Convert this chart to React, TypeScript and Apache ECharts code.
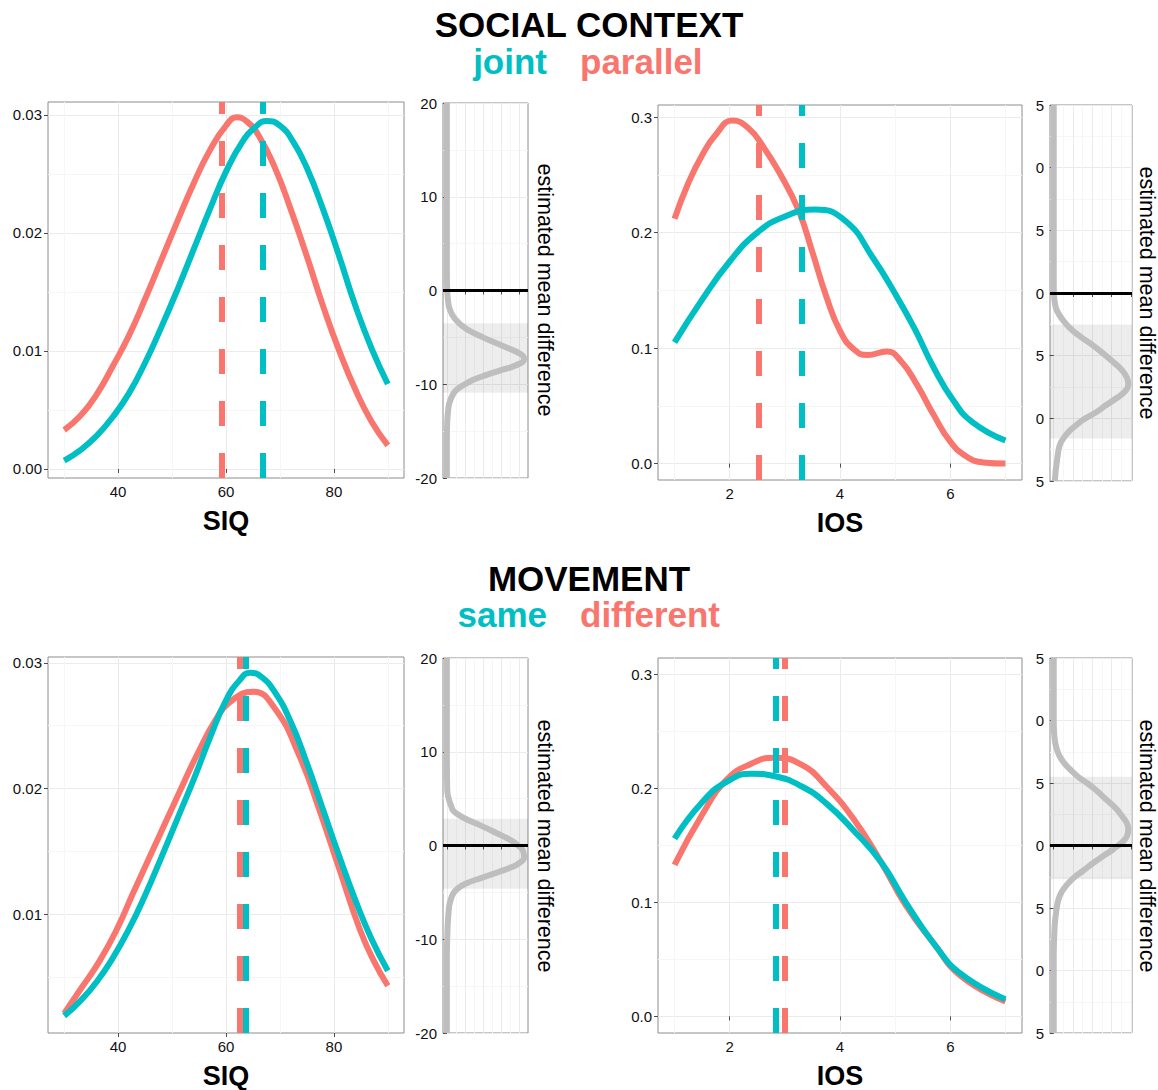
import React, { useEffect, useRef } from "react";
import * as echarts from "echarts";

const TEAL = "#00BFC4";
const RED = "#F8766D";
const FONT = "'Liberation Sans', Helvetica, Arial, sans-serif";

// ---------- SOCIAL CONTEXT : SIQ densities ----------
const socialSiqParallelX = [30, 33, 36, 39, 42, 45, 48, 51, 54, 57, 60, 62, 64, 66, 69, 72, 75, 78, 81, 84, 87, 90];
const socialSiqParallelY = [0.0033, 0.0045, 0.0063, 0.0087, 0.0113, 0.0144, 0.0177, 0.021, 0.0242, 0.027, 0.0291, 0.0298, 0.0294, 0.0283, 0.0256, 0.022, 0.018, 0.0138, 0.01, 0.0067, 0.004, 0.002];
const socialSiqJointX = [30, 33, 36, 39, 42, 45, 48, 51, 54, 57, 60, 63, 65.5, 67.5, 70, 72.5, 75, 78, 81, 84, 87, 90];
const socialSiqJointY = [0.0007, 0.0016, 0.0028, 0.0044, 0.0064, 0.009, 0.012, 0.0152, 0.0186, 0.022, 0.0252, 0.0277, 0.029, 0.0295, 0.0291, 0.0277, 0.0255, 0.022, 0.018, 0.0138, 0.0102, 0.0072];
const socialSiqMeans = { joint: 66.85, parallel: 59.3 };

// ---------- SOCIAL CONTEXT : IOS densities ----------
const socialIosParallelX = [1.0, 1.25, 1.5, 1.75, 2.05, 2.35, 2.6, 2.9, 3.25, 3.5, 3.75, 4.0, 4.25, 4.5, 4.85, 5.1, 5.4, 5.7, 6.0, 6.3, 6.6, 7.0];
const socialIosParallelY = [0.212, 0.243, 0.267, 0.285, 0.297, 0.29, 0.275, 0.252, 0.219, 0.183, 0.145, 0.115, 0.099, 0.094, 0.097, 0.089, 0.068, 0.042, 0.019, 0.006, 0.001, 0.0];
const socialIosJointX = [1.0, 1.5, 2.0, 2.5, 3.0, 3.55, 4.1, 4.6, 5.0, 5.35, 5.7, 6.05, 6.4, 7.0];
const socialIosJointY = [0.105, 0.142, 0.175, 0.2, 0.214, 0.22, 0.21, 0.178, 0.147, 0.117, 0.083, 0.055, 0.036, 0.02];
const socialIosMeans = { joint: 3.3, parallel: 2.53 };

// ---------- MOVEMENT : SIQ densities ----------
const moveSiqDifferentX = [30, 33, 36.6, 40, 42.8, 46, 49, 52, 55.1, 58, 60.5, 65, 69, 73.6, 77.3, 81, 84.8, 87.5, 90];
const moveSiqDifferentY = [0.0021, 0.004, 0.0063, 0.009, 0.0117, 0.0147, 0.0175, 0.0203, 0.0231, 0.0254, 0.0268, 0.0277, 0.0264, 0.0226, 0.0183, 0.0136, 0.0088, 0.0062, 0.0043];
const moveSiqSameX = [30, 33, 36, 39, 42, 45, 48, 51, 54, 57, 60, 62.5, 64.5, 66.5, 69, 72, 75, 78, 81, 84, 87, 90];
const moveSiqSameY = [0.0019, 0.0031, 0.0046, 0.0065, 0.0088, 0.0115, 0.0145, 0.0176, 0.0207, 0.024, 0.027, 0.0286, 0.0292, 0.0289, 0.0277, 0.0253, 0.022, 0.0183, 0.0146, 0.0111, 0.008, 0.0055];
const moveSiqMeans = { same: 63.6, different: 62.5 };

// ---------- MOVEMENT : IOS densities ----------
const moveIosX = [1.0, 1.5, 1.95, 2.4, 2.8, 3.3, 3.75, 4.25, 4.75, 5.2, 5.7, 6.2, 7.0];
const moveIosDifferentY = [0.133, 0.177, 0.208, 0.222, 0.227, 0.221, 0.202, 0.173, 0.135, 0.097, 0.064, 0.035, 0.013];
const moveIosSameY = [0.156, 0.188, 0.206, 0.213, 0.211, 0.202, 0.187, 0.163, 0.135, 0.0995, 0.064, 0.037, 0.015];
const moveIosMeans = { same: 2.84, different: 2.99 };

// ---------- posterior of the mean difference (side panels) ----------
const socialSiqDiff = [20, 10, 2, 0, -1, -2, -3, -4, -5, -6, -6.8, -7.3, -8, -8.5, -9, -9.5, -10, -10.5, -11, -12, -13, -14, -16, -20];
const socialSiqDiffDens = [0, 0, 0, 0.001, 0.003, 0.008, 0.022, 0.05, 0.1, 0.16, 0.205, 0.214, 0.19, 0.15, 0.11, 0.075, 0.05, 0.03, 0.018, 0.007, 0.003, 0.001, 0, 0];
const socialSiqHdi = [-10.9, -3.5];

const socialIosDiff = [1.5, 0.5, 0.1, 0, -0.1, -0.15, -0.2, -0.28, -0.35, -0.41, -0.48, -0.55, -0.62, -0.68, -0.73, -0.78, -0.84, -0.9, -0.95, -1.0, -1.03, -1.07, -1.11, -1.16, -1.21, -1.28, -1.35, -1.42, -1.5];
const socialIosDiffDens = [0, 0, 0, 0.005, 0.04, 0.1, 0.2, 0.42, 0.7, 0.98, 1.27, 1.54, 1.78, 1.9, 1.93, 1.86, 1.62, 1.33, 1.11, 0.82, 0.68, 0.52, 0.38, 0.25, 0.16, 0.11, 0.08, 0.05, 0.03];
const socialIosHdi = [-1.16, -0.255];

const moveSiqDiff = [20, 10, 6, 5, 4.2, 3.7, 3.2, 2.7, 2.2, 1.6, 1, 0.5, 0, -0.5, -1.25, -1.8, -2.3, -2.8, -3.4, -4.1, -4.6, -5.1, -6, -6.6, -8, -10, -12, -20];
const moveSiqDiffDens = [0, 0, 0.001, 0.005, 0.012, 0.018, 0.035, 0.06, 0.09, 0.123, 0.155, 0.18, 0.197, 0.21, 0.214, 0.203, 0.18, 0.145, 0.1, 0.05, 0.03, 0.018, 0.009, 0.006, 0.003, 0.001, 0, 0];
const moveSiqHdi = [-4.6, 2.85];

const moveIosDiff = [1.5, 1.0, 0.9, 0.82, 0.76, 0.71, 0.66, 0.61, 0.55, 0.5, 0.45, 0.39, 0.34, 0.29, 0.23, 0.18, 0.13, 0.08, 0.04, -0.03, -0.08, -0.14, -0.2, -0.25, -0.3, -0.35, -0.4, -0.46, -0.54, -0.62, -0.75, -0.9, -1.5];
const moveIosDiffDens = [0, 0, 0.01, 0.04, 0.09, 0.16, 0.27, 0.42, 0.63, 0.86, 1.07, 1.28, 1.46, 1.63, 1.78, 1.89, 1.93, 1.9, 1.82, 1.54, 1.3, 1.02, 0.77, 0.55, 0.38, 0.25, 0.16, 0.1, 0.06, 0.03, 0.01, 0, 0];
const moveIosHdi = [-0.27, 0.55];

// ---------- ticks ----------
const siqTicks = [40, 60, 80];
const siqMinor = [30, 50, 70, 90];
const iosTicks = [2, 4, 6];
const iosMinor = [1, 3, 5, 7];
const siqDensTicks = [0, 0.01, 0.02, 0.03];
const siqDensMinor = [0.005, 0.015, 0.025];
const iosDensTicks = [0, 0.1, 0.2, 0.3];
const iosDensMinor = [0.05, 0.15, 0.25];
const siqDiffTicks = [-20, -10, 0, 10, 20];
const siqDiffMinor = [-15, -5, 5, 15];
const iosDiffTicks = [-1.5, -1, -0.5, 0, 0.5, 1, 1.5];
const iosDiffTickLabels = ["5", "0", "5", "0", "5", "0", "5"];
const iosDiffMinor = [-1.25, -0.75, -0.25, 0.25, 0.75, 1.25];
const siqDiffDensTicks = [0, 0.05, 0.1, 0.15, 0.2];
const siqDiffDensMinor = [0.025, 0.075, 0.125, 0.175];
const iosDiffDensTicks = [0, 0.5, 1, 1.5, 2];
const iosDiffDensMinor = [0.25, 0.75, 1.25, 1.75];

// ---------- layout ----------
const grids = [
  { left: 48, top: 102, width: 356, height: 376 },
  { left: 443, top: 103, width: 85, height: 375 },
  { left: 658, top: 105, width: 364, height: 375 },
  { left: 1050, top: 105, width: 82, height: 376 },
  { left: 48, top: 657, width: 356, height: 376 },
  { left: 443, top: 658, width: 85, height: 375 },
  { left: 658, top: 658, width: 364, height: 375 },
  { left: 1050, top: 658, width: 82, height: 375 },
];

const zip = (xs: number[], ys: number[]) => xs.map((x, i) => [x, ys[i]]);

type MainPanel = {
  grid: number;
  xRange: [number, number];
  xTicks: number[];
  xMinor: number[];
  yRange: [number, number];
  yTicks: number[];
  yMinor: number[];
  dec: number;
  name: string;
  red: number[][];
  teal: number[][];
  redMean: number;
  tealMean: number;
};

type SidePanel = {
  grid: number;
  yRange: [number, number];
  yTicks: number[];
  yMinor: number[];
  yLabel: (v: number) => string;
  xTicks: number[];
  xMinor: number[];
  curve: number[][];
  hdi: number[];
};

const mainPanels: MainPanel[] = [
  {
    grid: 0, xRange: [27, 93], xTicks: siqTicks, xMinor: siqMinor,
    yRange: [-0.00077, 0.0311], yTicks: siqDensTicks, yMinor: siqDensMinor, dec: 2, name: "SIQ",
    red: zip(socialSiqParallelX, socialSiqParallelY), teal: zip(socialSiqJointX, socialSiqJointY),
    redMean: socialSiqMeans.parallel, tealMean: socialSiqMeans.joint,
  },
  {
    grid: 2, xRange: [0.7, 7.3], xTicks: iosTicks, xMinor: iosMinor,
    yRange: [-0.0142, 0.3105], yTicks: iosDensTicks, yMinor: iosDensMinor, dec: 1, name: "IOS",
    red: zip(socialIosParallelX, socialIosParallelY), teal: zip(socialIosJointX, socialIosJointY),
    redMean: socialIosMeans.parallel, tealMean: socialIosMeans.joint,
  },
  {
    grid: 4, xRange: [27, 93], xTicks: siqTicks, xMinor: siqMinor,
    yRange: [0.00054, 0.03046], yTicks: siqDensTicks, yMinor: siqDensMinor, dec: 2, name: "SIQ",
    red: zip(moveSiqDifferentX, moveSiqDifferentY), teal: zip(moveSiqSameX, moveSiqSameY),
    redMean: moveSiqMeans.different, tealMean: moveSiqMeans.same,
  },
  {
    grid: 6, xRange: [0.7, 7.3], xTicks: iosTicks, xMinor: iosMinor,
    yRange: [-0.0146, 0.3146], yTicks: iosDensTicks, yMinor: iosDensMinor, dec: 1, name: "IOS",
    red: zip(moveIosX, moveIosDifferentY), teal: zip(moveIosX, moveIosSameY),
    redMean: moveIosMeans.different, tealMean: moveIosMeans.same,
  },
];

const siqLab = (v: number) => String(v);
const iosLab = (v: number) => {
  const i = iosDiffTicks.findIndex((t) => Math.abs(t - v) < 1e-6);
  return i >= 0 ? iosDiffTickLabels[i] : "";
};

const sidePanels: SidePanel[] = [
  { grid: 1, yRange: [-20, 20], yTicks: siqDiffTicks, yMinor: siqDiffMinor, yLabel: siqLab, xTicks: siqDiffDensTicks, xMinor: siqDiffDensMinor, curve: zip(socialSiqDiffDens, socialSiqDiff), hdi: socialSiqHdi },
  { grid: 3, yRange: [-1.5, 1.5], yTicks: iosDiffTicks, yMinor: iosDiffMinor, yLabel: iosLab, xTicks: iosDiffDensTicks, xMinor: iosDiffDensMinor, curve: zip(socialIosDiffDens, socialIosDiff), hdi: socialIosHdi },
  { grid: 5, yRange: [-20, 20], yTicks: siqDiffTicks, yMinor: siqDiffMinor, yLabel: siqLab, xTicks: siqDiffDensTicks, xMinor: siqDiffDensMinor, curve: zip(moveSiqDiffDens, moveSiqDiff), hdi: moveSiqHdi },
  { grid: 7, yRange: [-1.5, 1.5], yTicks: iosDiffTicks, yMinor: iosDiffMinor, yLabel: iosLab, xTicks: iosDiffDensTicks, xMinor: iosDiffDensMinor, curve: zip(moveIosDiffDens, moveIosDiff), hdi: moveIosHdi },
];

const MAJOR = "#EBEBEB";
const MINOR = "#F6F6F6";
const labelStyle = { fontSize: 15, color: "#111", fontFamily: FONT };

function majorAxis(gi: number, min: number, max: number, ticks: number[], fmt: ((v: number) => string) | null, pos: string, extra: any = {}) {
  return {
    type: "value", gridIndex: gi, min, max, position: pos,
    axisLine: { show: false },
    axisTick: { show: true, length: 4, customValues: ticks, lineStyle: { color: "#4d4d4d", width: 1 } },
    axisLabel: fmt
      ? { show: true, customValues: ticks, margin: 6, formatter: fmt, ...labelStyle }
      : { show: false },
    splitLine: { show: true, lineStyle: { color: MAJOR, width: 1 } },
    ...extra,
  };
}
function minorAxis(gi: number, min: number, max: number, ticks: number[], pos: string) {
  return {
    type: "value", gridIndex: gi, min, max, position: pos,
    axisLine: { show: false },
    axisTick: { show: false, customValues: ticks },
    axisLabel: { show: false },
    splitLine: { show: true, lineStyle: { color: MINOR, width: 1 } },
  };
}

function buildOption() {
  const xAxis: any[] = [];
  const yAxis: any[] = [];
  const series: any[] = [];

  const gridOpts = grids.map((g) => ({
    ...g, show: true, borderColor: "#8c8c8c", borderWidth: 1, backgroundColor: "#fff",
    containLabel: false, outerBoundsMode: "none",
  }));

  mainPanels.forEach((p) => {
    const xi = xAxis.length;
    xAxis.push(
      majorAxis(p.grid, p.xRange[0], p.xRange[1], p.xTicks, (v) => String(v), "bottom", {
        name: p.name, nameLocation: "middle", nameGap: 29,
        nameTextStyle: { fontSize: 27, fontWeight: "bold", color: "#000", fontFamily: FONT },
      }),
      minorAxis(p.grid, p.xRange[0], p.xRange[1], p.xMinor, "bottom")
    );
    const yi = yAxis.length;
    yAxis.push(
      majorAxis(p.grid, p.yRange[0], p.yRange[1], p.yTicks, (v) => v.toFixed(p.dec), "left"),
      minorAxis(p.grid, p.yRange[0], p.yRange[1], p.yMinor, "left")
    );
    const base = { type: "line", xAxisIndex: xi, yAxisIndex: yi, showSymbol: false, symbol: "none", smooth: 0.5, silent: true };
    series.push({ ...base, z: 3, data: p.red, lineStyle: { color: RED, width: 6 } });
    series.push({ ...base, z: 4, data: p.teal, lineStyle: { color: TEAL, width: 6 } });
    [[p.redMean, RED], [p.tealMean, TEAL]].forEach(([m, c], k) => {
      series.push({
        type: "line", xAxisIndex: xi, yAxisIndex: yi, data: [], z: 5 + k, silent: true,
        markLine: {
          silent: true, symbol: ["none", "none"], animation: false,
          label: { show: false },
          lineStyle: { color: c, width: 6, type: [25, 27], opacity: 1 },
          emphasis: { disabled: true },
          data: [{ xAxis: m }],
        },
      });
    });
  });

  sidePanels.forEach((p) => {
    const maxD = Math.max(...p.curve.map((d) => d[0]));
    const xMin = -0.05 * maxD;
    const xMax = 1.05 * maxD;
    const xi = xAxis.length;
    xAxis.push(
      majorAxis(p.grid, xMin, xMax, p.xTicks, null, "bottom"),
      minorAxis(p.grid, xMin, xMax, p.xMinor, "bottom")
    );
    const yi = yAxis.length;
    yAxis.push(
      majorAxis(p.grid, p.yRange[0], p.yRange[1], p.yTicks, p.yLabel, "left"),
      minorAxis(p.grid, p.yRange[0], p.yRange[1], p.yMinor, "left")
    );
    series.push({
      type: "line", xAxisIndex: xi, yAxisIndex: yi, data: [], z: 2, silent: true,
      markArea: {
        silent: true, itemStyle: { color: "rgba(0,0,0,0.07)" },
        label: { show: false },
        data: [[{ yAxis: p.hdi[1] }, { yAxis: p.hdi[0] }]],
      },
    });
    series.push({
      type: "line", xAxisIndex: xi, yAxisIndex: yi, data: p.curve, z: 3, silent: true,
      showSymbol: false, symbol: "none", smooth: 0.5,
      lineStyle: { color: "#BEBEBE", width: 6 },
    });
    series.push({
      type: "line", xAxisIndex: xi, yAxisIndex: yi, data: [], z: 4, silent: true,
      markLine: {
        silent: true, symbol: ["none", "none"], label: { show: false },
        lineStyle: { color: "#000", width: 3, type: "solid" },
        data: [{ yAxis: 0 }],
      },
    });
  });

  const titleStyle = (text: string, color: string, align: string) => ({
    text, fill: color, fontSize: 35, fontWeight: "bold", fontFamily: FONT, align, verticalAlign: "middle",
  });
  const sideTitle = (x: number, y: number) => ({
    type: "text", x, y, rotation: -Math.PI / 2,
    style: { text: "estimated mean difference", fill: "#000", fontSize: 21.5, fontFamily: FONT, align: "center", verticalAlign: "middle" },
  });

  const graphic = [
    { type: "text", x: 589, y: 24, style: titleStyle("SOCIAL CONTEXT", "#000", "center") },
    { type: "text", x: 547, y: 61, style: titleStyle("joint", TEAL, "right") },
    { type: "text", x: 580, y: 61, style: titleStyle("parallel", RED, "left") },
    { type: "text", x: 589, y: 578, style: titleStyle("MOVEMENT", "#000", "center") },
    { type: "text", x: 547, y: 614, style: titleStyle("same", TEAL, "right") },
    { type: "text", x: 580, y: 614, style: titleStyle("different", RED, "left") },
    sideTitle(545, 290),
    sideTitle(1147, 293),
    sideTitle(545, 846),
    sideTitle(1147, 846),
  ];

  return {
    animation: false,
    backgroundColor: "#fff",
    grid: gridOpts,
    xAxis,
    yAxis,
    series,
    graphic,
  };
}

export default function App() {
  const ref = useRef<HTMLDivElement>(null);
  useEffect(() => {
    if (!ref.current) return;
    const chart = echarts.init(ref.current, undefined, { renderer: "svg" });
    chart.setOption(buildOption() as any);
    return () => chart.dispose();
  }, []);
  return (
    <div
      ref={ref}
      style={{ position: "absolute", left: 0, top: 0, width: 1158, height: 1090 }}
    />
  );
}
